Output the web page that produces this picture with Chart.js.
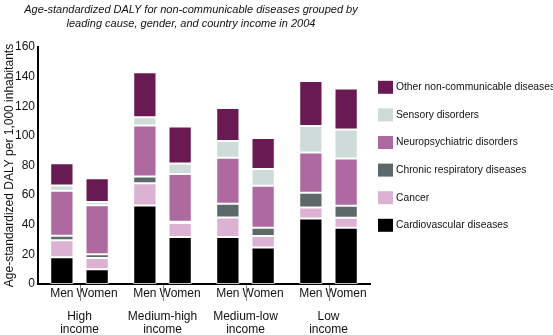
<!DOCTYPE html>
<html>
<head>
<meta charset="utf-8">
<script src="https://cdn.jsdelivr.net/npm/chart.js@4"></script>
<style>
  html, body { margin: 0; padding: 0; background: #fff; }
  #wrap { width: 553px; height: 335px; }
</style>
</head>
<body>
<div id="wrap"><canvas id="dalyChart" width="553" height="335"></canvas></div>
<script>
// -------------------------
// Data
// -------------------------
const incomeGroups = [['High', 'income'], ['Medium-high', 'income'], ['Medium-low', 'income'], ['Low', 'income']];
const genders = ['Men', 'Women'];
const causes = ['Cardiovascular diseases', 'Cancer', 'Chronic respiratory diseases',
                'Neuropsychiatric disorders', 'Sensory disorders', 'Other non-communicable diseases'];

// values per income group: High, Medium-high, Medium-low, Low
const cardioMen = [18, 53, 31.7, 44.3];
const cancerMen = [11.5, 15, 13.2, 7.4];
const chronicMen = [3, 4.5, 9.3, 9.9];
const neuroMen = [30.5, 34.5, 31, 27.2];
const sensoryMen = [3.5, 5.5, 11.3, 17.8];
const otherMen = [15, 30.5, 22.3, 30.4];

const cardioWomen = [10, 31.7, 24.7, 38];
const cancerWomen = [7.6, 9.4, 7.7, 6.7];
const chronicWomen = [2.5, 1, 5.6, 8.1];
const neuroWomen = [33, 32.2, 28.3, 31.9];
const sensoryWomen = [2.3, 7, 11.3, 19.6];
const otherWomen = [16, 25, 20.9, 27.7];

const yTicks = [0, 20, 40, 60, 80, 100, 120, 140, 160];

const menSeries = [cardioMen, cancerMen, chronicMen, neuroMen, sensoryMen, otherMen];
const womenSeries = [cardioWomen, cancerWomen, chronicWomen, neuroWomen, sensoryWomen, otherWomen];
const causeColors = ['#000000', '#dcb2d2', '#5d6869', '#ae6aa0', '#cedbd9', '#6a1a53'];

const FONT = '"Liberation Sans", Arial, Helvetica, sans-serif';

// -------------------------
// Datasets (one per cause and gender, stacked by gender)
// -------------------------
const datasets = [];
[menSeries, womenSeries].forEach((series, g) => {
    series.forEach((vals, i) => {
        datasets.push({
            label: causes[i],
            data: vals,
            stack: genders[g],
            backgroundColor: causeColors[i],
            borderColor: 'rgba(255,255,255,0.75)',
            borderWidth: 1,
            borderSkipped: false,
            categoryPercentage: 0.85,
            barPercentage: 0.66
        });
    });
});

// -------------------------
// Extra drawing: title, legend, Men/Women labels and dividers
// -------------------------
const extras = {
    id: 'extras',
    afterDraw(chart) {
        const ctx = chart.ctx;
        const area = chart.chartArea;
        ctx.save();
        ctx.fillStyle = '#111';
        ctx.textAlign = 'center';
        ctx.textBaseline = 'middle';
        ctx.font = 'italic 11px ' + FONT;
        ctx.fillText('Age-standardized DALY for non-communicable diseases grouped by', 191, 10);
        ctx.fillText('leading cause, gender, and country income in 2004', 191, 24);

        // Men / Women under each bar
        const menMeta = chart.getDatasetMeta(0);
        const womenMeta = chart.getDatasetMeta(6);
        ctx.font = '12px ' + FONT;
        incomeGroups.forEach((grp, i) => {
            const xm = menMeta.data[i].x;
            const xw = womenMeta.data[i].x;
            ctx.fillStyle = '#111';
            ctx.fillText(genders[0], xm, area.bottom + 10);
            ctx.fillText(genders[1], xw, area.bottom + 10);
            const xd = Math.round((xm + xw) / 2) + 0.5;
            ctx.strokeStyle = '#888';
            ctx.lineWidth = 1;
            ctx.beginPath();
            ctx.moveTo(xd, area.bottom + 1);
            ctx.lineTo(xd, area.bottom + 17);
            ctx.stroke();
        });

        // legend, top entry is the last cause
        ctx.textAlign = 'left';
        ctx.font = '10.3px ' + FONT;
        const lx = area.right + 8;
        causes.slice().reverse().forEach((name, k) => {
            const cy = 87.3 + k * 27.6;
            ctx.fillStyle = causeColors[causes.length - 1 - k];
            ctx.fillRect(lx, cy - 6.5, 15, 13);
            ctx.fillStyle = '#111';
            ctx.fillText(name, lx + 18, cy);
        });
        ctx.restore();
    }
};

// -------------------------
// Chart
// -------------------------
const ctx = document.getElementById('dalyChart').getContext('2d');
new Chart(ctx, {
    type: 'bar',
    data: { labels: incomeGroups, datasets: datasets },
    plugins: [extras],
    options: {
        responsive: false,
        animation: false,
        layout: { padding: { top: 47, right: 183, bottom: 0, left: 0 } },
        plugins: {
            title: { display: false },
            tooltip: { enabled: false },
            legend: { display: false }
        },
        scales: {
            x: {
                stacked: true,
                afterFit: scale => { scale.height = 51; },
                grid: { display: false, drawTicks: false },
                border: { display: true, color: '#000', width: 2 },
                ticks: {
                    color: '#111',
                    padding: 27,
                    maxRotation: 0,
                    autoSkip: false,
                    font: { family: FONT, size: 12, lineHeight: 1.02 }
                }
            },
            y: {
                stacked: true,
                min: 0,
                max: 160,
                afterBuildTicks: axis => { axis.ticks = yTicks.map(v => ({ value: v })); },
                afterFit: scale => { scale.width = 38; },
                grid: { display: false, drawTicks: false },
                border: { display: true, color: '#000', width: 2 },
                ticks: {
                    color: '#111',
                    padding: 3,
                    font: { family: FONT, size: 12 }
                },
                title: {
                    display: true,
                    text: 'Age-standardized DALY per 1,000 inhabitants',
                    color: '#111',
                    padding: { top: 2, bottom: 0 },
                    font: { family: FONT, size: 12 }
                }
            }
        }
    }
});
</script>
</body>
</html>
